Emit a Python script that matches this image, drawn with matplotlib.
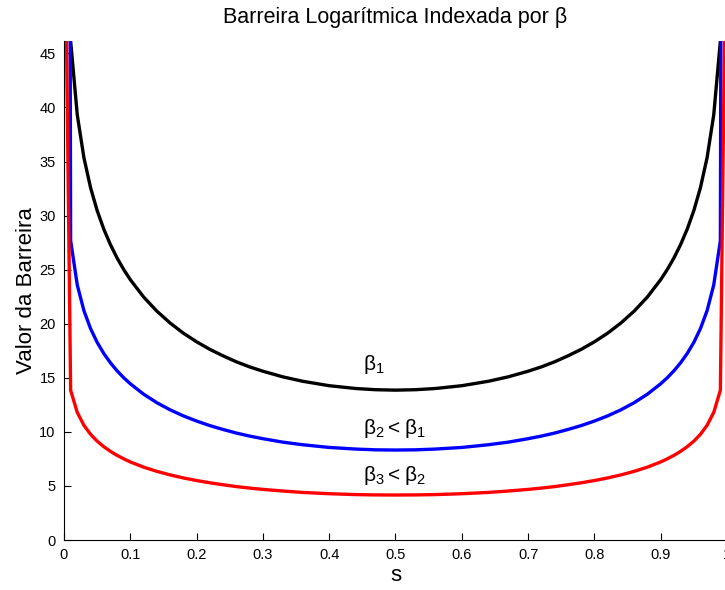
import matplotlib
matplotlib.use("Agg")
import matplotlib.pyplot as plt

plt.rcParams['font.family'] = ['Liberation Sans', 'DejaVu Sans']

s = [0.0, 0.01, 0.02, 0.03, 0.04, 0.05, 0.06, 0.07, 0.08, 0.09, 0.1, 0.12, 0.14,
     0.16, 0.18, 0.2, 0.22, 0.24, 0.26, 0.28, 0.3, 0.33, 0.36, 0.4, 0.44, 0.47,
     0.5, 0.53, 0.56, 0.6, 0.64, 0.67, 0.7, 0.72, 0.74, 0.76, 0.78, 0.8, 0.82,
     0.84, 0.86, 0.88, 0.9, 0.91, 0.92, 0.93, 0.94, 0.95, 0.96, 0.97, 0.98, 0.99, 1.0]

beta1 = [460, 46.15, 39.32, 35.37, 32.60, 30.47, 28.75, 27.32, 26.09, 25.02, 24.08, 22.48, 21.17,
         20.07, 19.13, 18.33, 17.63, 17.03, 16.48, 16.01, 15.61, 15.09, 14.68, 14.27, 14.01, 13.90,
         13.86, 13.90, 14.01, 14.27, 14.68, 15.09, 15.61, 16.01, 16.48, 17.03, 17.63, 18.33, 19.13,
         20.07, 21.17, 22.48, 24.08, 25.02, 26.09, 27.32, 28.75, 30.47, 32.60, 35.37, 39.32, 46.15, 460]
beta2 = [290, 27.69, 23.59, 21.22, 19.56, 18.28, 17.25, 16.39, 15.65, 15.01, 14.45, 13.49, 12.70,
         12.04, 11.48, 11.00, 10.58, 10.22, 9.89, 9.61, 9.37, 9.05, 8.81, 8.56, 8.41, 8.34,
         8.32, 8.34, 8.41, 8.56, 8.81, 9.05, 9.37, 9.61, 9.89, 10.22, 10.58, 11.00, 11.48,
         12.04, 12.70, 13.49, 14.45, 15.01, 15.65, 16.39, 17.25, 18.28, 19.56, 21.22, 23.59, 27.69, 290]
beta3 = [66, 13.85, 11.80, 10.61, 9.78, 9.14, 8.63, 8.20, 7.83, 7.51, 7.22, 6.74, 6.35,
         6.02, 5.74, 5.50, 5.29, 5.11, 4.94, 4.80, 4.68, 4.53, 4.40, 4.28, 4.20, 4.17,
         4.16, 4.17, 4.20, 4.28, 4.40, 4.53, 4.68, 4.80, 4.94, 5.11, 5.29, 5.50, 5.74,
         6.02, 6.35, 6.74, 7.22, 7.51, 7.83, 8.20, 8.63, 9.14, 9.78, 10.61, 11.80, 13.85, 66]

xticks = [0, 0.1, 0.2, 0.3, 0.4, 0.5, 0.6, 0.7, 0.8, 0.9, 1.0]
xlabels = ['0', '0.1', '0.2', '0.3', '0.4', '0.5', '0.6', '0.7', '0.8', '0.9', '1']
yticks = [0, 5, 10, 15, 20, 25, 30, 35, 40, 45]

fig = plt.figure(figsize=(7.25, 5.9), dpi=100)
ax = fig.add_axes([64 / 725, 50 / 590, 663 / 725, 499 / 590])

ax.plot(s, beta1, color='black', lw=2.4)
ax.plot(s, beta2, color='blue', lw=2.4)
ax.plot(s, beta3, color='red', lw=2.4)

ax.text(0.451, 16.2, r'$\mathregular{\beta_1}$', fontsize=15, va='center', ha='left')
ax.text(0.451, 10.3, r'$\mathregular{\beta_2<\beta_1}$', fontsize=15, va='center', ha='left')
ax.text(0.451, 6.0, r'$\mathregular{\beta_3<\beta_2}$', fontsize=15, va='center', ha='left')

ax.set_xlim(0, 1)
ax.set_ylim(0, 46.15)
ax.set_xticks(xticks)
ax.set_xticklabels(xlabels)
ax.set_yticks(yticks)
ax.tick_params(direction='in', length=5, width=0.8, labelsize=10.5, pad=6)
for side in ['top', 'right']:
    ax.spines[side].set_visible(False)

ax.set_title('Barreira Logarítmica Indexada por β', fontsize=15.5, pad=13)
ax.set_xlabel('s', fontsize=16, labelpad=2)
ax.set_ylabel('Valor da Barreira', fontsize=16, labelpad=2)

fig.savefig('out.png', dpi=100)
